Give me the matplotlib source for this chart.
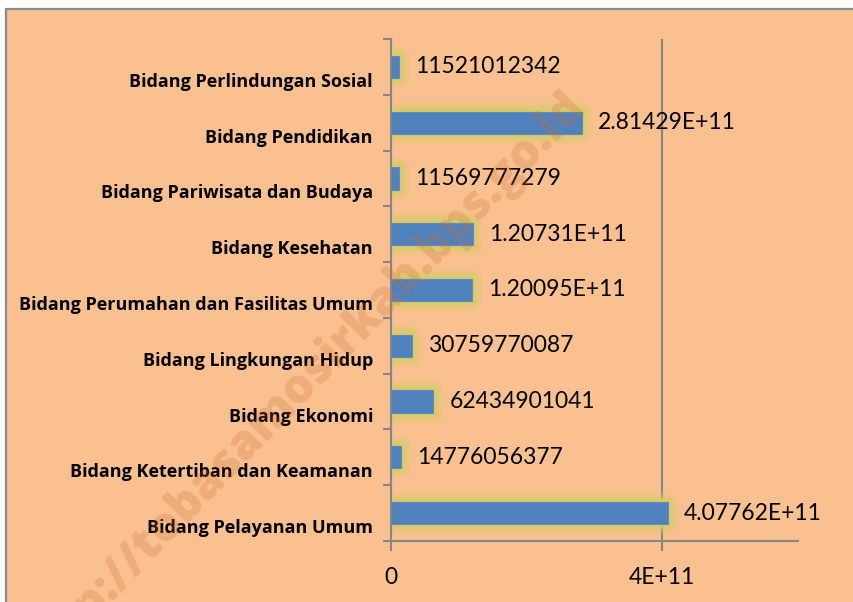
import matplotlib
matplotlib.use("Agg")
import matplotlib.pyplot as plt
import matplotlib.patheffects as pe
from matplotlib.patches import Rectangle
from matplotlib.transforms import ScaledTranslation

# data, bottom to top as drawn
categories = [
    "Bidang Pelayanan Umum",
    "Bidang Ketertiban dan Keamanan",
    "Bidang Ekonomi",
    "Bidang Lingkungan Hidup",
    "Bidang Perumahan dan Fasilitas Umum",
    "Bidang Kesehatan",
    "Bidang Pariwisata dan Budaya",
    "Bidang Pendidikan",
    "Bidang Perlindungan Sosial",
]
values = [4.07762e11, 14776056377, 62434901041, 30759770087, 1.20095e11,
          1.20731e11, 11569777279, 2.81429e11, 11521012342]
x_ticks = [0, 4e11]
x_tick_labels = ["0", "4E+11"]


def general_fmt(v):
    # mimic Excel "General" number format
    if v >= 1e11:
        return f"{v:.5E}"
    return str(int(v))


BG = "#FAC090"
BAR = "#4F81BD"
GLOW = "#D8CC68"
AX = "#868686"

plt.rcParams["font.family"] = ["Lato", "DejaVu Sans"]

fig = plt.figure(figsize=(8.54, 6.02), dpi=100, facecolor="white")
fig.patches.append(Rectangle((6 / 854, -0.1), 1.2, 1.1 - 9 / 602,
                             transform=fig.transFigure, facecolor=BG,
                             edgecolor="#8C8C8C", lw=1.6, zorder=0))

ax = fig.add_axes([391 / 854, 61 / 602, 407 / 854, 502 / 602])
ax.set_facecolor("none")
ax.set_zorder(2)

ypos = list(range(len(categories)))
glow = [pe.Stroke(linewidth=lw, foreground=GLOW, alpha=a, joinstyle="round")
        for lw, a in [(16, 0.1), (13, 0.18), (10, 0.3), (7, 0.5), (4, 0.75)]]
bars = ax.barh(ypos, values, height=0.4, color=BAR, edgecolor="#5B8CC6",
               lw=0.8, zorder=3)
for b in bars:
    b.set_path_effects(glow + [pe.Normal()])

for y, v in zip(ypos, values):
    ax.annotate(general_fmt(v), (v, y), xytext=(16, 0),
                textcoords="offset pixels", va="center", ha="left",
                fontsize=16.5, color="black", zorder=5)

ax.set_xlim(0, 6e11)
ax.set_ylim(-0.5, len(categories) - 0.5)
ax.set_xticks(x_ticks)
ax.set_xticklabels(x_tick_labels, fontsize=16.5)
ax.set_yticks(ypos)
ax.set_yticklabels(categories, fontsize=13, fontweight="bold",
                   family=["Open Sans", "DejaVu Sans"])
ax.set_yticks([i - 0.5 for i in range(len(categories) + 1)], minor=True)
ax.tick_params(axis="y", which="major", length=0, pad=13)
ax.tick_params(axis="y", which="minor", length=6, color=AX, width=1.5)
ax.tick_params(axis="x", length=7, color=AX, width=1.5, pad=12)
ax.grid(axis="x", color=AX, lw=1.5, zorder=1)
ax.set_axisbelow(True)

# Excel puts the category labels a little below the bar centres
shift = ScaledTranslation(0, -13 / 100, fig.dpi_scale_trans)
for lab in ax.get_yticklabels():
    lab.set_transform(lab.get_transform() + shift)

for s in ["top", "right"]:
    ax.spines[s].set_visible(False)
for s in ["left", "bottom"]:
    ax.spines[s].set_color(AX)
    ax.spines[s].set_linewidth(1.5)
    ax.spines[s].set_zorder(4)

# diagonal watermark
fig.text(304 / 854, 1 - 383 / 602, "http://tobasamosirkab.bps.go.id",
         rotation=46, rotation_mode="anchor", ha="center", va="center",
         fontsize=34, fontweight="heavy", family=["Open Sans", "DejaVu Sans"],
         color="#C8703A", alpha=0.25, zorder=10)

fig.savefig("out.png", dpi=100, facecolor=fig.get_facecolor())
